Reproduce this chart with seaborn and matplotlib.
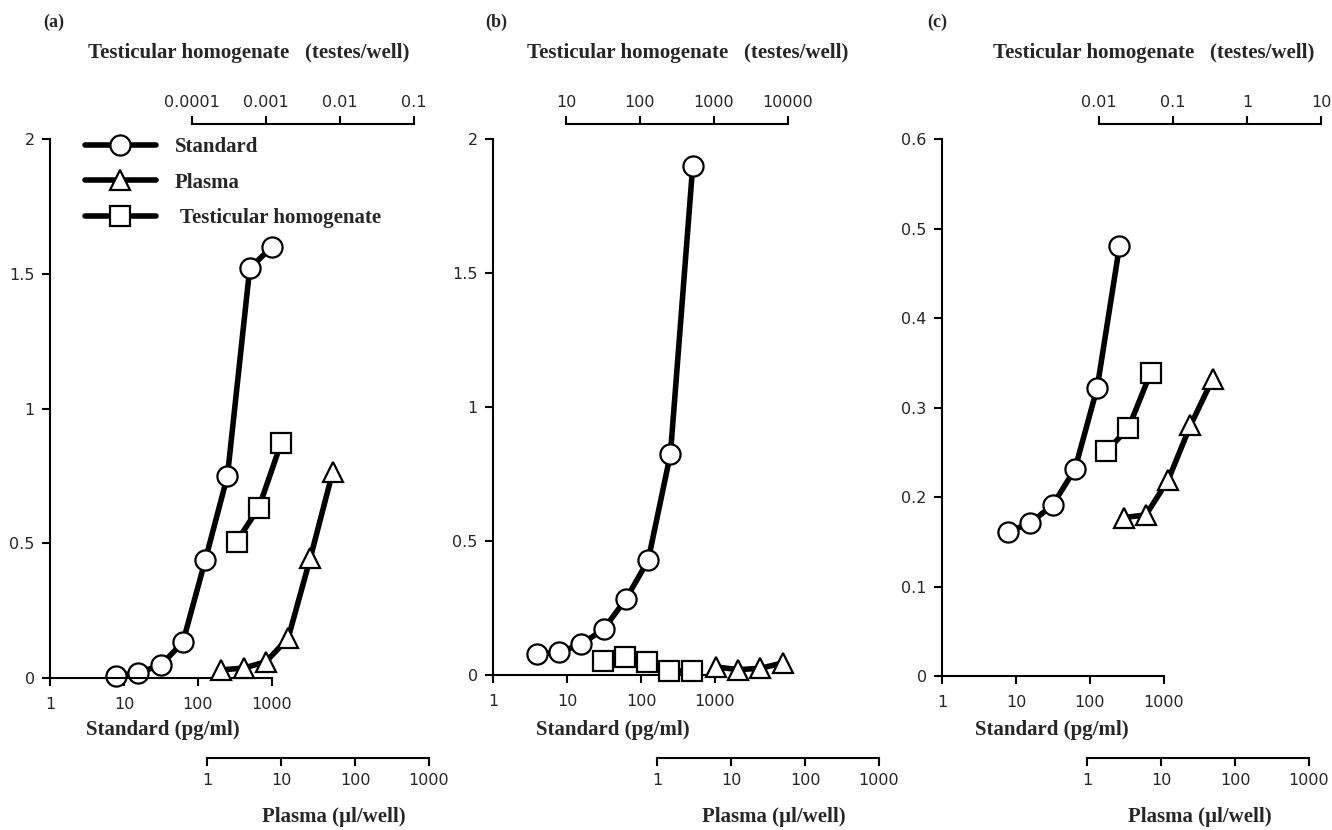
import matplotlib
matplotlib.use("Agg")
import matplotlib.pyplot as plt
from matplotlib.lines import Line2D
import seaborn as sns
import pandas as pd

# ------------------------------------------
# Data
# ------------------------------------------
# panel (a)
a_std_x = [7.8, 15.6, 31.25, 62.5, 125, 250, 500, 1000]
a_std_y = [0.008, 0.02, 0.047, 0.133, 0.436, 0.75, 1.52, 1.60]
a_plasma_x = [1.5625, 3.125, 6.25, 12.5, 25, 50]
a_plasma_y = [0.03, 0.037, 0.06, 0.148, 0.447, 0.765]
a_testes_x = [0.0004, 0.0008, 0.0016]
a_testes_y = [0.506, 0.632, 0.872]

# panel (b)
b_std_x = [3.9, 7.8, 15.6, 31.25, 62.5, 125, 250, 500]
b_std_y = [0.078, 0.085, 0.115, 0.171, 0.283, 0.428, 0.825, 1.90]
b_testes_x = [31.25, 62.5, 125, 250, 500]
b_testes_y = [0.052, 0.067, 0.048, 0.015, 0.015]
b_plasma_x = [6.25, 12.5, 25, 50]
b_plasma_y = [0.03, 0.02, 0.025, 0.045]

# panel (c)
c_std_x = [7.8, 15.6, 31.25, 62.5, 125, 250]
c_std_y = [0.161, 0.171, 0.191, 0.231, 0.322, 0.48]
c_testes_x = [0.0125, 0.025, 0.05]
c_testes_y = [0.251, 0.277, 0.339]
c_plasma_x = [3.125, 6.25, 12.5, 25, 50]
c_plasma_y = [0.177, 0.18, 0.219, 0.28, 0.332]

# axis ticks
std_ticks = [1, 10, 100, 1000]
plasma_ticks = [1, 10, 100, 1000]
a_testes_ticks = [0.0001, 0.001, 0.01, 0.1]
b_testes_ticks = [10, 100, 1000, 10000]
c_testes_ticks = [0.01, 0.1, 1, 10]
ab_yticks = [0, 0.5, 1, 1.5, 2]
c_yticks = [0, 0.1, 0.2, 0.3, 0.4, 0.5, 0.6]

panel_names = ["(a)", "(b)", "(c)"]
legend_labels = ["Standard", "Plasma", " Testicular homogenate"]

# ------------------------------------------
# Style
# ------------------------------------------
sns.set_style("ticks")
plt.rcParams["font.family"] = ["DejaVu Sans"]
SERIF = "Liberation Serif"

W, H = 1332, 830
fig = plt.figure(figsize=(W / 100, H / 100), dpi=100)

LINE = dict(color="black", linewidth=4, markersize=14.5, markerfacecolor="white",
            markeredgecolor="black", markeredgewidth=1.6, clip_on=False)


def px_axes(x0, x1, y_top, y_bot):
    return fig.add_axes([x0 / W, 1 - y_bot / H, (x1 - x0) / W, (y_bot - y_top) / H])


def fmt(v):
    return f"{v:g}"


def draw_series(ax, xs, ys, marker):
    df = pd.DataFrame({"x": xs, "y": ys})
    sns.lineplot(data=df, x="x", y="y", ax=ax, marker=marker, sort=False,
                 estimator=None, legend=False, **LINE)
    ax.set_xlabel("")
    ax.set_ylabel("")


panels = [
    dict(main_left=50, plasma_left=207, testes_left=192, y_bot=678, ymax=2,
         yticks=ab_yticks, testes_ticks=a_testes_ticks,
         std=(a_std_x, a_std_y), plasma=(a_plasma_x, a_plasma_y), testes=(a_testes_x, a_testes_y),
         label_x=43, title_x=88, std_lab_x=163, plasma_lab_x=334),
    dict(main_left=493, plasma_left=657, testes_left=566, y_bot=675, ymax=2,
         yticks=ab_yticks, testes_ticks=b_testes_ticks,
         std=(b_std_x, b_std_y), plasma=(b_plasma_x, b_plasma_y), testes=(b_testes_x, b_testes_y),
         label_x=485, title_x=527, std_lab_x=613, plasma_lab_x=774),
    dict(main_left=942, plasma_left=1087, testes_left=1099, y_bot=676, ymax=0.6,
         yticks=c_yticks, testes_ticks=c_testes_ticks,
         std=(c_std_x, c_std_y), plasma=(c_plasma_x, c_plasma_y), testes=(c_testes_x, c_testes_y),
         label_x=927, title_x=993, std_lab_x=1052, plasma_lab_x=1200),
]

Y_TOP = 139
SPAN = 222  # pixels for three log decades
TICK = dict(direction="out", length=6, width=1.5, labelsize=11.5, color="black")

for i, p in enumerate(panels):
    # --- main axis: standard ---
    ax = px_axes(p["main_left"], p["main_left"] + SPAN, Y_TOP, p["y_bot"])
    ax.set_xscale("log")
    ax.set_xlim(std_ticks[0], std_ticks[-1])
    ax.set_ylim(0, p["ymax"])
    ax.patch.set_alpha(0)
    for s in ["top", "right"]:
        ax.spines[s].set_visible(False)
    for s in ["left", "bottom"]:
        ax.spines[s].set_linewidth(1.5)
        ax.spines[s].set_color("black")
    ax.set_xticks(std_ticks, [fmt(v) for v in std_ticks])
    ax.set_yticks(p["yticks"], [fmt(v) for v in p["yticks"]])
    ax.minorticks_off()
    ax.tick_params(axis="x", pad=8, **TICK)
    ax.tick_params(axis="y", pad=5, **TICK)

    # --- plasma axis (bottom, offset) ---
    axp = px_axes(p["plasma_left"], p["plasma_left"] + SPAN, Y_TOP, p["y_bot"])
    axp.set_xscale("log")
    axp.set_xlim(plasma_ticks[0], plasma_ticks[-1])
    axp.set_ylim(0, p["ymax"])
    axp.patch.set_alpha(0)
    for s in ["top", "right", "left"]:
        axp.spines[s].set_visible(False)
    axp.spines["bottom"].set_position(("outward", (758 - p["y_bot"]) * 0.72))
    axp.spines["bottom"].set_linewidth(1.5)
    axp.spines["bottom"].set_color("black")
    axp.set_xticks(plasma_ticks, [fmt(v) for v in plasma_ticks])
    axp.minorticks_off()
    axp.tick_params(axis="x", pad=5, **TICK)
    axp.tick_params(axis="y", left=False, labelleft=False)

    # --- testicular axis (top, offset) ---
    t_ticks = p["testes_ticks"]
    axt = px_axes(p["testes_left"], p["testes_left"] + SPAN, Y_TOP, p["y_bot"])
    axt.set_xscale("log")
    axt.set_xlim(t_ticks[0], t_ticks[-1])
    axt.set_ylim(0, p["ymax"])
    axt.patch.set_alpha(0)
    for s in ["bottom", "right", "left"]:
        axt.spines[s].set_visible(False)
    axt.spines["top"].set_position(("outward", 15 * 0.72))
    axt.spines["top"].set_linewidth(1.5)
    axt.spines["top"].set_color("black")
    axt.xaxis.tick_top()
    axt.set_xticks(t_ticks, [fmt(v) for v in t_ticks])
    axt.minorticks_off()
    axt.tick_params(axis="x", pad=4, **TICK)
    axt.tick_params(axis="y", left=False, labelleft=False)

    # --- data ---
    draw_series(axt, *p["testes"], marker="s")
    draw_series(axp, *p["plasma"], marker="^")
    draw_series(ax, *p["std"], marker="o")

    # --- texts ---
    fig.text(p["label_x"] / W, 1 - 22 / H, panel_names[i], family=SERIF,
             weight="bold", size=13, ha="left", va="center")
    fig.text(p["title_x"] / W, 1 - 53 / H, "Testicular homogenate   (testes/well)",
             family=SERIF, weight="bold", size=15, ha="left", va="center")
    fig.text(p["std_lab_x"] / W, 1 - 730 / H, "Standard (pg/ml)", family=SERIF,
             weight="bold", size=15, ha="center", va="center")
    fig.text(p["plasma_lab_x"] / W, 1 - 817 / H, "Plasma (\u00b5l/well)", family=SERIF,
             weight="bold", size=15, ha="center", va="center")

    if i == 0:
        handles = [Line2D([], [], marker=m, **{k: v for k, v in LINE.items() if k != "clip_on"})
                   for m in ["o", "^", "s"]]
        ax.legend(handles, legend_labels, loc="upper left",
                  bbox_to_anchor=(85 / W, 1 - 137 / H), bbox_transform=fig.transFigure,
                  frameon=False, handlelength=3.4, handletextpad=0.9,
                  labelspacing=0.75, borderpad=0, borderaxespad=0,
                  prop=dict(family=SERIF, weight="bold", size=15))

fig.savefig("out.png", dpi=100)
